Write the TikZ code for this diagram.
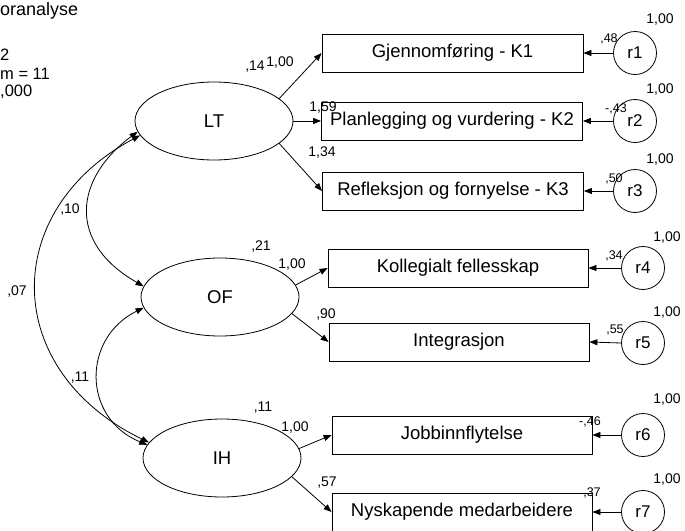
\documentclass[tikz,border=0pt]{standalone}
\usepackage{fontspec}
\setmainfont{Liberation Sans}
\usetikzlibrary{shapes.geometric,arrows.meta}
\begin{document}
\begin{tikzpicture}[x=1pt,y=-1pt,
  lv/.style={ellipse,draw,line width=0.8pt,minimum width=158pt,minimum height=78pt,inner sep=0pt,font=\fontsize{18.5}{20}\selectfont},
  ind/.style={rectangle,draw,line width=0.8pt,minimum width=261pt,minimum height=38pt,inner sep=0pt,font=\fontsize{18.5}{20}\selectfont},
  res/.style={circle,draw,line width=0.8pt,minimum size=43pt,inner sep=0pt,font=\fontsize{17}{18}\selectfont},
  lab/.style={inner sep=0pt,font=\fontsize{14}{15}\selectfont},
  slab/.style={inner sep=0pt,font=\fontsize{12.5}{13}\selectfont},
  hd/.style={inner sep=0pt,anchor=west,font=\fontsize{16.5}{18}\selectfont},
  arr/.style={-{Triangle[length=8pt,width=6pt]},line width=0.8pt},
  darr/.style={{Triangle[length=8pt,width=6pt]}-{Triangle[length=8pt,width=6pt]},line width=0.8pt}
]
\fill[white] (0,0) rectangle (685,530);
\useasboundingbox (0,0) rectangle (685,530);

% header text (cropped in the reference)
\node[hd,font=\fontsize{18}{20}\selectfont] (h1) at (0,11) {oranalyse};
\node[hd] (h2) at (0,55) {2};
\node[hd] (h3) at (0,73.5) {m = 11};
\node[hd] (h4) at (0,92) {,000};

% latent variables
\node[lv] (LT) at (214,121) {LT};
\node[lv] (OF) at (220,297) {OF};
\node[lv] (IH) at (222,458) {IH};

% indicators
\node[ind] (K1) at (452.5,53) {Gjennomføring - K1};
\node[ind] (K2) at (452,121) {Planlegging og vurdering - K2};
\node[ind] (K3) at (453,191) {Refleksjon og fornyelse - K3};
\node[ind,minimum width=260pt] (K4) at (458,268) {Kollegialt fellesskap};
\node[ind,minimum width=260pt] (K5) at (459,342) {Integrasjon};
\node[ind,minimum width=260pt] (K6) at (462,435) {Jobbinnflytelse};
\node[ind,minimum width=260pt] (K7) at (462,512) {Nyskapende medarbeidere};

% residuals
\node[res] (r1) at (635,53) {r1};
\node[res] (r2) at (635,121) {r2};
\node[res] (r3) at (635,191) {r3};
\node[res] (r4) at (643,268) {r4};
\node[res] (r5) at (643,343) {r5};
\node[res] (r6) at (643,435) {r6};
\node[res] (r7) at (643,512) {r7};

% loadings
\draw[arr] (LT.19) -- (K1.west);
\draw[arr] (LT.east) -- (K2.west);
\draw[arr] (LT.-19) -- (K3.west);
\draw[arr] (OF.9) -- (K4.west);
\draw[arr] (OF.-13) -- (K5.west);
\draw[arr] (IH.7) -- (K6.west);
\draw[arr] (IH.-15) -- (K7.west);

% residual arrows
\draw[arr] (r1.west) -- (K1.east);
\draw[arr] (r2.west) -- (K2.east);
\draw[arr] (r3.west) -- (K3.east);
\draw[arr] (r4.west) -- (K4.east);
\draw[arr] (r5.west) -- (K5.east);
\draw[arr] (r6.west) -- (K6.east);
\draw[arr] (r7.west) -- (K7.east);

% covariances
\draw[darr] (LT.188) .. controls (75,178) and (66,242) .. (OF.172);
\draw[darr] (OF.188) .. controls (82,338) and (82,418) .. (IH.170);
\draw[darr] (LT.191) .. controls (0,210) and (0,370) .. (IH.168);

% covariance labels
\node[lab] (c1) at (70,210) {,10};
\node[lab] (c2) at (80,378) {,11};
\node[lab] (c3) at (17,292) {,07};

% variances and loadings labels
\node[lab] (v1) at (255,67) {,14};
\node[lab] (l1) at (280,63) {1,00};
\node[lab] (l2) at (323,108) {1,59};
\node[lab] (l3) at (322,153) {1,34};
\node[lab] (v2) at (261,247) {,21};
\node[lab] (l4) at (292,265) {1,00};
\node[lab] (l5) at (326,315) {,90};
\node[lab] (v3) at (263,408) {,11};
\node[lab] (l6) at (295,428) {1,00};
\node[lab] (l7) at (327,483) {,57};

% residual labels
\node[slab] (e1) at (609,39) {,48};
\node[slab] (e2) at (616,109) {-,43};
\node[slab] (e3) at (614,179) {,50};
\node[slab] (e4) at (614,256) {,34};
\node[slab] (e5) at (615,330) {,55};
\node[slab] (e6) at (590,422) {-,46};
\node[slab] (e7) at (592,493) {,37};

\node[lab] (w1) at (660,20) {1,00};
\node[lab] (w2) at (660,90) {1,00};
\node[lab] (w3) at (660,160) {1,00};
\node[lab] (w4) at (667,238) {1,00};
\node[lab] (w5) at (667,313) {1,00};
\node[lab] (w6) at (667,400) {1,00};
\node[lab] (w7) at (667,480) {1,00};
\end{tikzpicture}
\end{document}
